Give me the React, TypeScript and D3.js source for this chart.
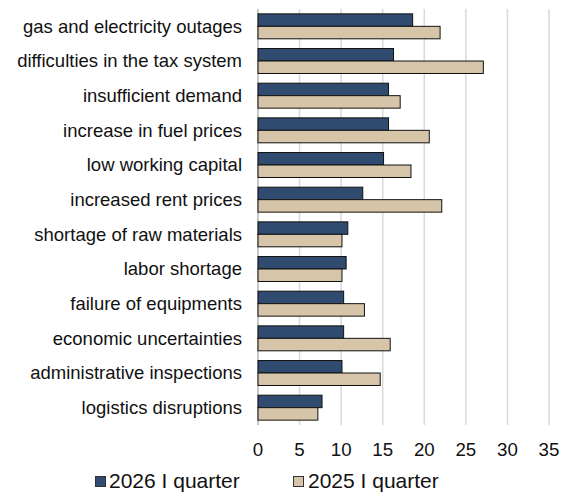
import React from "react";
import * as d3 from "d3";

const categories = [
  "gas and electricity outages",
  "difficulties in the tax system",
  "insufficient demand",
  "increase in fuel prices",
  "low working capital",
  "increased rent prices",
  "shortage of raw materials",
  "labor shortage",
  "failure of equipments",
  "economic uncertainties",
  "administrative inspections",
  "logistics disruptions",
];
const seriesNames = ["2026 I quarter", "2025 I quarter"];
const values2026 = [18.6, 16.3, 15.7, 15.7, 15.1, 12.6, 10.8, 10.6, 10.3, 10.3, 10.1, 7.7];
const values2025 = [21.9, 27.1, 17.1, 20.6, 18.4, 22.1, 10.1, 10.1, 12.8, 15.9, 14.7, 7.2];
const xTicks = [0, 5, 10, 15, 20, 25, 30, 35];
const colors = ["#2F4B6F", "#D6C5A9"];

const W = 573, H = 494;
const font = "'Liberation Sans', Arial, sans-serif";

export default function App() {
  const x = d3.scaleLinear().domain([0, 35]).range([258, 549]);
  const y = d3.scaleBand().domain(categories).range([9, 425]).paddingInner(0.28).paddingOuter(0.14);
  const inner = d3.scaleBand().domain(seriesNames).range([0, y.bandwidth()]);
  const series = [values2026, values2025];

  return (
    <svg width={W} height={H} style={{ position: "absolute", left: 0, top: 0, background: "#fff" }} fontFamily={font}>
      {xTicks.map((t) => (
        <line key={t} x1={x(t)} x2={x(t)} y1={9} y2={425} stroke="#d9d9d9" strokeWidth={1.5} />
      ))}
      <line x1={x(0)} x2={x(0)} y1={9} y2={425} stroke="#bfbfbf" strokeWidth={1.5} />
      {categories.map((c, i) => (
        <g key={c}>
          {series.map((vals, s) => (
            <rect
              key={s}
              x={x(0)}
              y={(y(c) as number) + (inner(seriesNames[s]) as number)}
              width={x(vals[i]) - x(0)}
              height={inner.bandwidth()}
              fill={colors[s]}
              stroke="#111"
              strokeWidth={1}
            />
          ))}
          <text x={242} y={(y(c) as number) + y.bandwidth() / 2} dy="0.35em" textAnchor="end" fontSize={18.5} fill="#111">
            {c}
          </text>
        </g>
      ))}
      {xTicks.map((t) => (
        <text key={t} x={x(t)} y={455.5} textAnchor="middle" fontSize={18.7} fill="#111">
          {t}
        </text>
      ))}
      <g fontSize={21} fill="#111">
        <rect x={95.5} y={476.5} width={10} height={10} fill={colors[0]} stroke="#333" />
        <text x={109} y={488}>{seriesNames[0]}</text>
        <rect x={293.5} y={476.5} width={10} height={10} fill={colors[1]} stroke="#333" />
        <text x={308} y={488}>{seriesNames[1]}</text>
      </g>
    </svg>
  );
}
